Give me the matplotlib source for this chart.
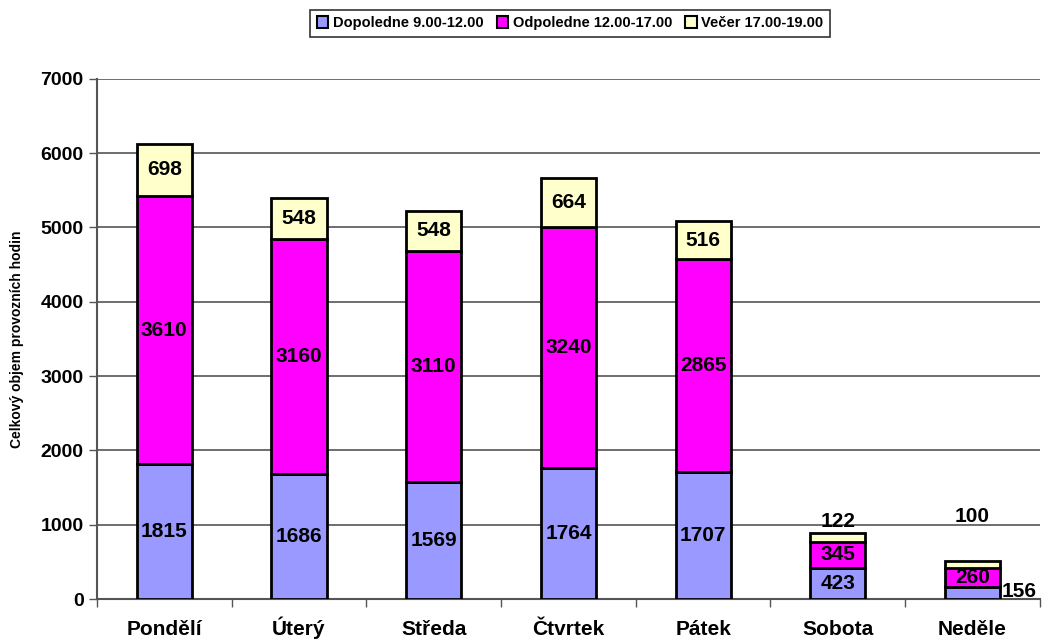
import numpy as np
import matplotlib
matplotlib.use("Agg")
import matplotlib.pyplot as plt

days = ["Pondělí", "Úterý", "Středa", "Čtvrtek", "Pátek", "Sobota", "Neděle"]
dopoledne = [1815, 1686, 1569, 1764, 1707, 423, 156]
odpoledne = [3610, 3160, 3110, 3240, 2865, 345, 260]
vecer = [698, 548, 548, 664, 516, 122, 100]
series_names = ["Dopoledne 9.00-12.00", "Odpoledne 12.00-17.00", "Večer 17.00-19.00"]
colors = ["#9999FF", "#FF00FF", "#FFFFCC"]

plt.rcParams["font.family"] = ["Liberation Sans", "DejaVu Sans"]
plt.rcParams["font.weight"] = "bold"

fig = plt.figure(figsize=(10.42, 6.41), dpi=100)
ax = fig.add_axes([0.093, 0.0655, 0.905, 0.8115])

x = np.arange(len(days))
width = 0.41
bottom = np.zeros(len(days))
for vals, name, col in zip([dopoledne, odpoledne, vecer], series_names, colors):
    vals = np.array(vals, dtype=float)
    ax.bar(x, vals, width, bottom=bottom, color=col, edgecolor="black",
           linewidth=2, label=name, zorder=3)
    for i, v in enumerate(vals):
        if v >= 250:
            ax.text(x[i], bottom[i] + v / 2, f"{int(v)}", ha="center",
                    va="center", fontsize=15, fontweight="bold", zorder=4)
    bottom += vals

# small segments: labels placed outside the bars
totals = bottom
ax.text(x[5], totals[5] + 30, f"{vecer[5]}", ha="center", va="bottom",
        fontsize=15, fontweight="bold", zorder=4)
ax.text(x[6], totals[6] + 460, f"{vecer[6]}", ha="center", va="bottom",
        fontsize=15, fontweight="bold", zorder=4)
ax.text(x[6] + width / 2 + 0.01, dopoledne[6] / 2 + 20, f"{dopoledne[6]}",
        ha="left", va="center", fontsize=15, fontweight="bold", zorder=4)

ax.set_xlim(-0.5, len(days) - 0.5)
ax.set_ylim(0, 7000)
ax.set_yticks(np.arange(0, 7001, 1000))
ax.yaxis.grid(True, color="#555555", linewidth=1.2)
ax.set_axisbelow(True)
ax.set_xticks(x)
ax.set_xticklabels(days, fontsize=15, fontweight="bold", va="baseline")
ax.set_xticks(np.arange(-0.5, len(days) - 0.4, 1), minor=True)
ax.tick_params(axis="x", which="major", length=0, pad=26)
ax.tick_params(axis="x", which="minor", length=6, width=1, color="#555555")
ax.tick_params(axis="y", length=6, width=1, color="#555555", labelsize=14)
for lab in ax.get_yticklabels():
    lab.set_fontweight("bold")
ax.set_ylabel("Celkový objem provozních hodin", fontsize=10, fontweight="bold",
              labelpad=12)

for s in ["top", "right"]:
    ax.spines[s].set_visible(False)
ax.spines["left"].set_color("#555555")
ax.spines["bottom"].set_color("#555555")
ax.spines["left"].set_linewidth(1.5)
ax.spines["bottom"].set_linewidth(1.5)

leg = fig.legend(loc="center", bbox_to_anchor=(0.547, 0.964), ncol=3,
                 prop={"weight": "bold", "size": 10.5},
                 frameon=True, fancybox=False, edgecolor="black",
                 handlelength=0.8, handleheight=0.8, handletextpad=0.3,
                 columnspacing=0.9, borderpad=0.45)
leg.get_frame().set_linewidth(1.2)
for h in leg.legend_handles:
    h.set_linewidth(1.5)

fig.savefig("out.png", dpi=100)
